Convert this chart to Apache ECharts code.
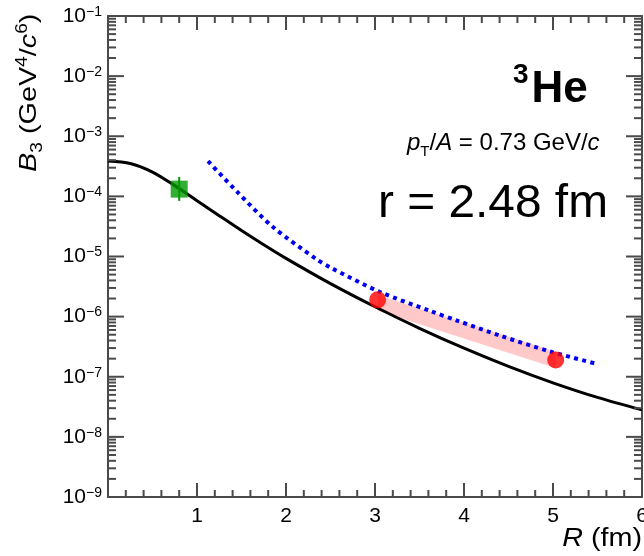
<!DOCTYPE html>
<html>
<head>
<meta charset="utf-8">
<script src="https://cdn.jsdelivr.net/npm/echarts@6/dist/echarts.min.js"></script>
<style>
  html, body { margin: 0; padding: 0; background: #fff; }
  #chart { width: 644px; height: 556px; }
</style>
</head>
<body>
<div id="chart"></div>
<script>
// B3 coalescence parameter of 3He versus source radius R

// full calculation (solid black)
const curveR  = [0, 0.25, 0.5, 0.75, 1, 1.25, 1.5, 1.75, 2, 2.5, 3, 3.5, 4, 4.5, 5, 5.5, 6];
const curveB3 = [3.89e-4, 3.53e-4, 2.54e-4, 1.51e-4, 8.49e-5, 4.78e-5, 2.71e-5, 1.57e-5, 9.31e-6, 3.54e-6, 1.46e-6, 6.40e-7, 2.99e-7, 1.49e-7, 7.93e-8, 4.53e-8, 2.81e-8];

// simple coalescence model (blue dotted)
const modelR  = [1.124, 1.449, 1.854, 2.348, 2.494, 3.056, 3.618, 3.921, 4.404, 4.966, 5.506];
const modelB3 = [3.86e-4, 1.20e-4, 3.09e-5, 8.91e-6, 6.61e-6, 2.57e-6, 1.245e-6, 8.61e-7, 4.84e-7, 2.63e-7, 1.62e-7];

// red points and the shaded band between them
const pointR  = [3.03, 5.03];
const pointB3 = [1.9e-6, 1.9e-7];
const bandR    = [3.03, 5.03];
const bandHigh = [2.3e-6, 2.6e-7];
const bandLow  = [1.25e-6, 1.4e-7];

// measured point (green square) with its uncertainty
const dataR    = [0.8];
const dataB3   = [1.32e-4];
const dataLow  = [8.4e-5];
const dataHigh = [2.1e-4];

// axis ticks
const xTicks = [0, 1, 2, 3, 4, 5, 6];
const xMinorPerUnit = 5;
const yDecades = [-9, -8, -7, -6, -5, -4, -3, -2, -1];

const FONT = '"Liberation Sans", Arial, Helvetica, sans-serif';
const AXIS = '#4a4a4a';
const TXT = '#000';

// tick list for the frame: [axis, value, major?]
const frameTicks = [];
xTicks.forEach(r => frameTicks.push([0, r, 1]));
for (let i = 0; i < xTicks.length - 1; i++) {
  for (let k = 1; k < xMinorPerUnit; k++) frameTicks.push([0, xTicks[i] + k / xMinorPerUnit, 0]);
}
yDecades.forEach(d => frameTicks.push([1, Math.pow(10, d), 1]));
for (let i = 0; i < yDecades.length - 1; i++) {
  for (let k = 2; k <= 9; k++) frameTicks.push([1, k * Math.pow(10, yDecades[i]), 0]);
}

function expLabel(v) {
  const e = Math.round(Math.log10(v));
  return '{b|10}{s|' + String(e).replace('-', '\u2212') + '}';
}

// lays a run of text pieces along a baseline, returns graphic children
const mctx = document.createElement('canvas').getContext('2d');
function runs(parts) {
  let x = 0;
  const children = [];
  parts.forEach(p => {
    const font = (p.style || 'normal') + ' ' + (p.weight || 'normal') + ' ' + p.size + 'px ' + FONT;
    mctx.font = font;
    const w = mctx.measureText(p.text).width;
    children.push({
      type: 'text', x: x, y: (p.dy || 0) - 0.8465 * p.size,
      style: { text: p.text, font: font, fill: TXT }
    });
    x += w + (p.gap || 0);
  });
  return { children, width: x };
}

const heRun = runs([
  { text: '3', size: 28, weight: 'bold', dy: -20, gap: 3 },
  { text: 'He', size: 44, weight: 'bold' }
]);
const ptRun = runs([
  { text: 'p', size: 24, style: 'italic' },
  { text: 'T', size: 15, dy: 5 },
  { text: '/', size: 24 },
  { text: 'A', size: 24, style: 'italic' },
  { text: ' = 0.73 GeV/', size: 24 },
  { text: 'c', size: 24, style: 'italic' }
]);
const rRun = runs([{ text: 'r = 2.48 fm', size: 46 }]);
const xTitleRun = runs([
  { text: 'R', size: 25, style: 'italic' },
  { text: ' (fm)', size: 25 }
]);
const yTitleRun = runs([
  { text: 'B', size: 24, style: 'italic' },
  { text: '3', size: 16, dy: 5 },
  { text: ' (GeV', size: 24 },
  { text: '4', size: 16, dy: -10 },
  { text: '/', size: 24 },
  { text: 'c', size: 24, style: 'italic' },
  { text: '6', size: 16, dy: -10 },
  { text: ')', size: 24 }
]);

function makeXAxis(pos, showLabel) {
  return {
    type: 'value', position: pos, min: xTicks[0], max: xTicks[xTicks.length - 1], interval: 1,
    axisLine: { show: true, onZero: false, lineStyle: { color: AXIS, width: 2 } },
    axisTick: { show: false },
    splitLine: { show: false },
    axisLabel: {
      show: showLabel, margin: 9, fontSize: 21, fontFamily: FONT, color: TXT,
      formatter: v => (v === 0 ? '' : String(v))
    }
  };
}
function makeYAxis(pos, showLabel) {
  return {
    type: 'log', position: pos,
    min: Math.pow(10, yDecades[0]), max: Math.pow(10, yDecades[yDecades.length - 1]),
    splitNumber: 8,
    axisLine: { show: true, onZero: false, lineStyle: { color: AXIS, width: 2 } },
    axisTick: { show: false },
    splitLine: { show: false },
    axisLabel: {
      show: showLabel, margin: 6, formatter: expLabel, showMinLabel: true, showMaxLabel: true,
      rich: {
        b: { fontSize: 21, fontFamily: FONT, color: TXT, lineHeight: 22 },
        s: { fontSize: 14, fontFamily: FONT, color: TXT, verticalAlign: 'top', lineHeight: 14 }
      }
    }
  };
}

const chart = echarts.init(document.getElementById('chart'));

chart.setOption({
  animation: false,
  backgroundColor: '#fff',
  grid: { left: 108, right: 2, top: 16, bottom: 59, outerBoundsMode: 'none' },
  xAxis: [makeXAxis('bottom', true), makeXAxis('top', false)],
  yAxis: [makeYAxis('left', true), makeYAxis('right', false)],
  series: [
    {
      // inward ticks on all four sides of the frame, drawn as thin bars
      type: 'custom', silent: true, clip: false, z: 6,
      data: frameTicks,
      encode: { x: -1, y: -1 },
      renderItem(params, api) {
        const cs = params.coordSys;
        const isY = api.value(0) === 1;
        const v = api.value(1);
        const major = api.value(2) === 1;
        const st = { fill: AXIS };
        if (!isY) {
          const len = major ? 14 : 7;
          const px = api.coord([v, Math.pow(10, yDecades[0])])[0];
          return {
            type: 'group', children: [
              { type: 'rect', shape: { x: px - 1, y: cs.y + cs.height - len, width: 2, height: len }, style: st },
              { type: 'rect', shape: { x: px - 1, y: cs.y, width: 2, height: len }, style: { fill: AXIS } }
            ]
          };
        }
        const len = major ? 16 : 8;
        const py = api.coord([xTicks[0], v])[1];
        return {
          type: 'group', children: [
            { type: 'rect', shape: { x: cs.x, y: py - 1, width: len, height: 2 }, style: st },
            { type: 'rect', shape: { x: cs.x + cs.width - len, y: py - 1, width: len, height: 2 }, style: { fill: AXIS } }
          ]
        };
      }
    },
    {
      // shaded band between the two red points
      type: 'custom', silent: true, z: 1,
      data: [0],
      renderItem(params, api) {
        const pts = [];
        for (let i = 0; i < bandR.length; i++) pts.push(api.coord([bandR[i], bandHigh[i]]));
        for (let i = bandR.length - 1; i >= 0; i--) pts.push(api.coord([bandR[i], bandLow[i]]));
        return { type: 'polygon', shape: { points: pts }, style: { fill: '#ffc9c9' } };
      }
    },
    {
      type: 'line', name: 'calculation', z: 2,
      data: curveR.map((r, i) => [r, curveB3[i]]),
      showSymbol: false, smooth: 0.3,
      lineStyle: { color: '#000', width: 3 }
    },
    {
      type: 'line', name: 'model', z: 3,
      data: modelR.map((r, i) => [r, modelB3[i]]),
      showSymbol: false, smooth: 0.3,
      lineStyle: { color: '#0000f0', width: 4, type: [4, 4.3], cap: 'butt' }
    },
    {
      // vertical uncertainty of the measured point
      type: 'custom', z: 4,
      data: dataR.map((r, i) => [r, dataLow[i], dataHigh[i]]),
      encode: { x: 0, y: [1, 2] },
      renderItem(params, api) {
        const lo = api.coord([api.value(0), api.value(1)]);
        const hi = api.coord([api.value(0), api.value(2)]);
        return { type: 'line', shape: { x1: lo[0], y1: lo[1], x2: hi[0], y2: hi[1] }, style: { stroke: '#009a00', lineWidth: 2 } };
      }
    },
    {
      type: 'scatter', name: 'measured', z: 5,
      data: dataR.map((r, i) => [r, dataB3[i]]),
      symbol: 'rect', symbolSize: 17,
      itemStyle: { color: '#009a00' }
    },
    {
      type: 'scatter', name: 'radius', z: 5,
      data: pointR.map((r, i) => [r, pointB3[i]]),
      symbol: 'circle', symbolSize: 17,
      itemStyle: { color: '#ff0000' }
    }
  ],
  graphic: [
    { type: 'group', x: 513, y: 105, children: heRun.children },
    { type: 'group', x: 407, y: 152, children: ptRun.children },
    { type: 'group', x: 378, y: 220, scaleX: 1.04, children: rRun.children },
    { type: 'group', x: 642 - xTitleRun.width * 1.15, y: 548, scaleX: 1.15, children: xTitleRun.children },
    { type: 'group', x: 38, y: 172, rotation: Math.PI / 2, scaleX: 1.2, children: yTitleRun.children }
  ]
});
</script>
</body>
</html>
